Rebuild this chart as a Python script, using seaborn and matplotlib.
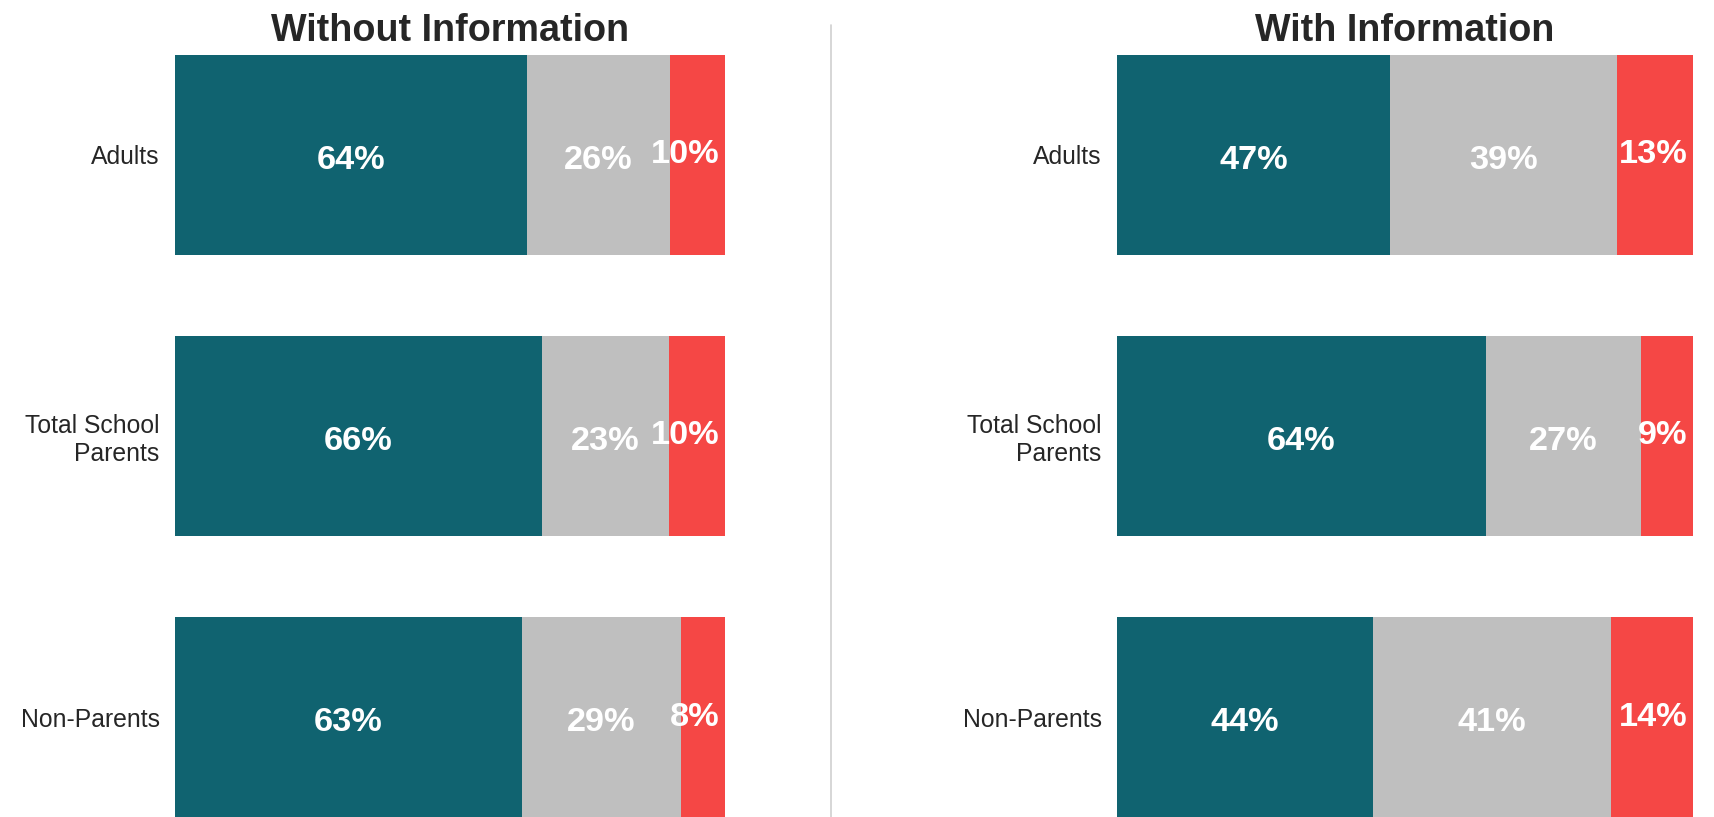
import numpy as np
import pandas as pd
import seaborn as sns
import matplotlib.pyplot as plt
from matplotlib import font_manager

groups = ["Adults", "Total School\nParents", "Non-Parents"]
panels = ["Without Information", "With Information"]

support_without = [64, 66, 63]
neutral_without = [26, 23, 29]
oppose_without = [10, 10, 8]

support_with = [47, 64, 44]
neutral_with = [39, 27, 41]
oppose_with = [13, 9, 14]

teal = "#106370"
grey = "#BFBFBF"
red = "#F54745"
text_dark = "#262626"

sns.set_theme(style="white")
names = {f.name for f in font_manager.fontManager.ttflist}
narrow = "Liberation Sans Narrow" in names
plt.rcParams["font.family"] = ["Liberation Sans Narrow" if narrow else "Liberation Sans", "DejaVu Sans"]
k = 1.0 if narrow else 0.85

fig = plt.figure(figsize=(17.14, 8.17), dpi=100)
ax1 = fig.add_axes([0.1021, 0.0, 0.3209, 0.9327])
ax2 = fig.add_axes([0.6517, 0.0, 0.3360, 0.9327])

data = [
    (ax1, panels[0], support_without, neutral_without, oppose_without),
    (ax2, panels[1], support_with, neutral_with, oppose_with),
]

for ax, title, sup, neu, opp in data:
    df = pd.DataFrame({"group": groups, "support": sup, "neutral": neu, "oppose": opp})
    total = df[["support", "neutral", "oppose"]].sum(axis=1)
    # 100% stacked: scale each row so bars end together
    df["s"] = df["support"] / total * 100
    df["n"] = df["neutral"] / total * 100
    df["o"] = df["oppose"] / total * 100
    df["sn"] = df["s"] + df["n"]
    df["all"] = df["sn"] + df["o"]

    sns.barplot(data=df, x="all", y="group", color=red, width=0.71, saturation=1,
                linewidth=0, ax=ax)
    sns.barplot(data=df, x="sn", y="group", color=grey, width=0.71, saturation=1,
                linewidth=0, ax=ax)
    sns.barplot(data=df, x="s", y="group", color=teal, width=0.71, saturation=1,
                linewidth=0, ax=ax)

    lab = dict(color="white", fontsize=29 * k, fontweight="bold", va="center",
               textcoords="offset points")
    for i, row in df.iterrows():
        ax.annotate(f"{row['support']}%", (row["s"] / 2, i), xytext=(0, -4),
                    ha="center", **lab)
        ax.annotate(f"{row['neutral']}%", (row["s"] + row["n"] / 2, i), xytext=(0, -4),
                    ha="center", **lab)
        ax.annotate(f"{row['oppose']}%", (row["all"], i), xytext=(-4, 0),
                    ha="right", **lab)

    ax.set_xlim(0, 100)
    ax.set_ylim(2.355, -0.355)
    ax.set_xlabel("")
    ax.set_ylabel("")
    ax.set_xticks([])
    ax.tick_params(axis="y", length=0, pad=11, labelsize=21 * k, labelcolor=text_dark)
    for t in ax.get_yticklabels():
        t.set_horizontalalignment("right")
        t.set_multialignment("right")
    sns.despine(ax=ax, left=True, bottom=True)
    ax.set_title(title, fontsize=32 * k, fontweight="bold", color=text_dark, pad=10)

fig.add_artist(plt.Line2D([0.485, 0.485], [0.0, 0.97], color="#D0D0D0", linewidth=1.2))

fig.savefig("out.png", dpi=100)
